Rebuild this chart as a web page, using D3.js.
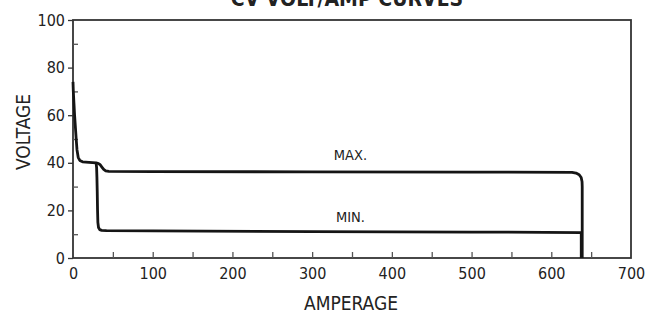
<!DOCTYPE html>
<html lang="en">
<head>
    <meta charset="UTF-8">
    <title>CV Volt/Amp Curves</title>
    <style>
        body { margin: 0; background: #fff; }
        svg text { font-family: "Liberation Sans Narrow", "DejaVu Sans Condensed", sans-serif; fill: #222; }
    </style>
</head>
<body>
    <svg id="chart" width="661" height="316"></svg>
    <script src="https://d3js.org/d3.v7.min.js"></script>
    <script>
        // values: [amperage, voltage]
        var maxCurve = [
            [0, 74], [0.4, 70], [1.2, 65], [2, 60], [3, 55], [4, 50], [5, 45.5], [6.5, 42.3],
            [8.5, 41], [12, 40.4], [20, 40.2], [29, 40], [32, 39.7], [34, 39.2], [36, 38.3],
            [38.5, 37.2], [41, 36.6], [45, 36.4], [100, 36.3], [300, 36.2], [500, 36.1],
            [626, 36], [631, 35.7], [635, 35], [637.5, 33.8], [638.6, 32], [638.8, 30], [638.8, 0]
        ];
        var minCurve = [
            [29, 40], [29.6, 38], [30, 34], [30.4, 28], [30.8, 20], [31.2, 15], [32, 12.8],
            [33.5, 11.9], [36, 11.6], [42, 11.5], [100, 11.4], [300, 11.1], [500, 10.9],
            [637.6, 10.7], [637.6, 0]
        ];
        var xTicks = [0, 100, 200, 300, 400, 500, 600, 700];
        var xMinorTicks = [50, 100, 150, 200, 250, 300, 350, 400, 450, 500, 550, 600, 650];
        var yTicks = [0, 20, 40, 60, 80, 100];
        var yMinorTicks = [10, 30, 50, 70, 90];
        var curveLabels = [
            { text: "MAX.", amp: 348, volt: 41.3 },
            { text: "MIN.", amp: 348, volt: 15.2 }
        ];

        var margin = { top: 20, right: 30, bottom: 58, left: 73 },
            width = 661 - margin.left - margin.right,
            height = 316 - margin.top - margin.bottom;

        var svg = d3.select("#chart")
            .append("g")
            .attr("transform", "translate(" + margin.left + "," + margin.top + ")");

        var x = d3.scaleLinear().domain([0, 700]).range([0, width]);
        var y = d3.scaleLinear().domain([0, 100]).range([height, 0]);

        // title, cut off at the top edge like in the original
        svg.append("text")
            .attr("x", x(350) - 5)
            .attr("y", -14)
            .attr("text-anchor", "middle")
            .style("font-size", "21px")
            .style("font-weight", "bold")
            .text("CV VOLT/AMP CURVES");

        // frame
        svg.append("rect")
            .attr("width", width)
            .attr("height", height)
            .attr("fill", "none")
            .attr("stroke", "#333")
            .attr("stroke-width", 1.8);

        // x axis: inward ticks every 50, labels every 100
        svg.append("g")
            .attr("transform", "translate(0," + height + ")")
            .call(d3.axisBottom(x).tickValues(xMinorTicks).tickSize(-6).tickFormat(""))
            .call(function(g) {
                g.select(".domain").remove();
                g.selectAll("line").attr("stroke", "#555").attr("stroke-width", 1.3);
            });

        svg.append("g")
            .attr("transform", "translate(0," + height + ")")
            .call(d3.axisBottom(x).tickValues(xTicks).tickSize(0).tickPadding(10))
            .call(function(g) {
                g.select(".domain").remove();
                g.selectAll("text").style("font-size", "16px").attr("dy", "0.71em");
            });

        // y axis: outward majors, inward minors
        svg.append("g")
            .call(d3.axisLeft(y).tickValues(yTicks).tickSize(5).tickPadding(3))
            .call(function(g) {
                g.select(".domain").remove();
                g.selectAll("line").attr("stroke", "#333").attr("stroke-width", 1.3);
                g.selectAll("text").style("font-size", "16px");
            });

        svg.append("g")
            .call(d3.axisLeft(y).tickValues(yMinorTicks).tickSize(-5).tickFormat(""))
            .call(function(g) {
                g.select(".domain").remove();
                g.selectAll("line").attr("stroke", "#555").attr("stroke-width", 1.3);
            });

        // curves
        var line = d3.line()
            .x(function(d) { return x(d[0]); })
            .y(function(d) { return y(d[1]); });

        [maxCurve, minCurve].forEach(function(c) {
            svg.append("path")
                .datum(c)
                .attr("d", line)
                .attr("fill", "none")
                .attr("stroke", "#151515")
                .attr("stroke-width", 2.8)
                .attr("stroke-linejoin", "round")
                .attr("stroke-linecap", "butt");
        });

        svg.selectAll(".curve-label")
            .data(curveLabels)
            .enter().append("text")
            .attr("class", "curve-label")
            .attr("x", function(d) { return x(d.amp); })
            .attr("y", function(d) { return y(d.volt); })
            .attr("text-anchor", "middle")
            .style("font-size", "14.5px")
            .text(function(d) { return d.text; });

        // axis titles
        svg.append("text")
            .attr("x", x(350) - 1)
            .attr("y", height + 52)
            .attr("text-anchor", "middle")
            .style("font-size", "19px")
            .text("AMPERAGE");

        svg.append("text")
            .attr("transform", "rotate(-90)")
            .attr("x", -(132 - margin.top))
            .attr("y", -margin.left + 30)
            .attr("text-anchor", "middle")
            .style("font-size", "19px")
            .text("VOLTAGE");
    </script>
</body>
</html>
